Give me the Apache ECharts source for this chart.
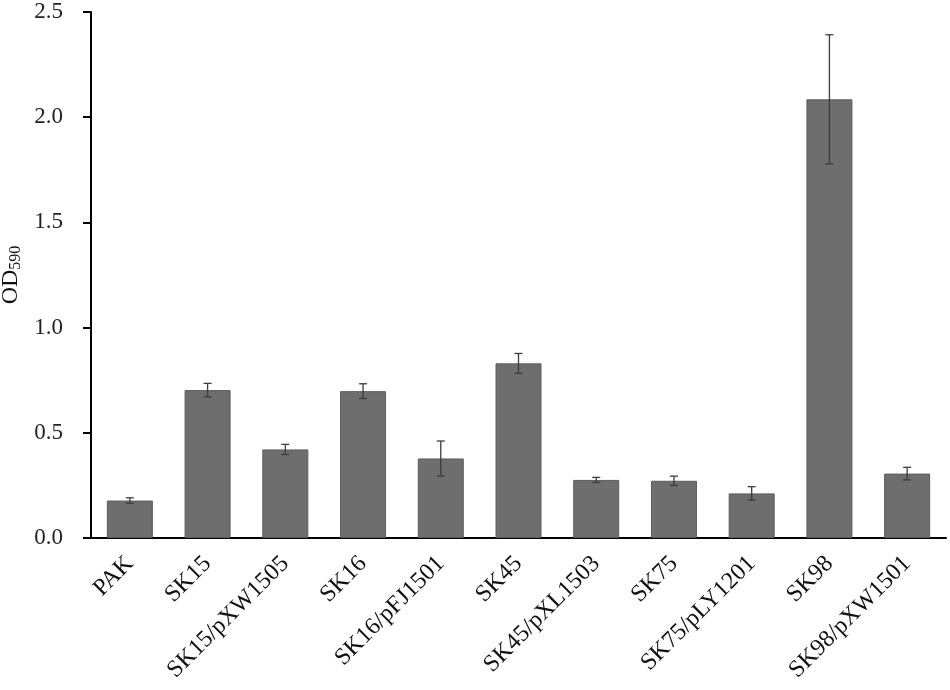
<!DOCTYPE html>
<html>
<head>
<meta charset="utf-8">
<script src="https://cdn.jsdelivr.net/npm/echarts@6/dist/echarts.min.js"></script>
<style>
  html, body { margin: 0; padding: 0; background: #fff; }
  #chart { width: 950px; height: 690px; }
</style>
</head>
<body>
<div id="chart"></div>
<script>
// strains on the x axis
var strains = ['PAK', 'SK15', 'SK15/pXW1505', 'SK16', 'SK16/pFJ1501', 'SK45',
  'SK45/pXL1503', 'SK75', 'SK75/pLY1201', 'SK98', 'SK98/pXW1501'];
// mean OD590 per strain
var odValues = [0.178, 0.703, 0.421, 0.698, 0.378, 0.830, 0.276, 0.272, 0.212, 2.085, 0.306];
// error bar half-length (+/-)
var odErrors = [0.013, 0.032, 0.024, 0.035, 0.083, 0.047, 0.012, 0.022, 0.032, 0.307, 0.030];
// y axis ticks
var yTicks = [0, 0.5, 1.0, 1.5, 2.0, 2.5];

var font = '"Liberation Serif", "Times New Roman", serif';
var myChart = echarts.init(document.getElementById('chart'));

var errData = strains.map(function (s, i) {
  return [i, odValues[i] - odErrors[i], odValues[i] + odErrors[i]];
});

var option = {
  animation: false,
  backgroundColor: '#fff',
  grid: { left: 91, right: 4, top: 12, bottom: 152, outerBoundsMode: 'none', containLabel: false },
  xAxis: {
    type: 'category',
    data: strains,
    axisLine: { lineStyle: { color: '#000', width: 2 } },
    axisTick: { show: false },
    axisLabel: {
      rotate: 45,
      interval: 0,
      margin: 22,
      fontFamily: font,
      fontSize: 24,
      color: '#111'
    }
  },
  yAxis: {
    type: 'value',
    min: yTicks[0],
    max: yTicks[yTicks.length - 1],
    interval: 0.5,
    splitLine: { show: false },
    axisLine: { show: true, lineStyle: { color: '#000', width: 2 } },
    axisTick: { show: true, length: 8, lineStyle: { color: '#000', width: 2 } },
    axisLabel: {
      margin: 28,
      fontFamily: font,
      fontSize: 23,
      color: '#222',
      formatter: function (v) { return v.toFixed(1); }
    },
    name: '{a|OD}{b|590}',
    nameLocation: 'middle',
    nameGap: 66,
    nameTextStyle: {
      rich: {
        a: { fontFamily: font, fontSize: 24, color: '#111' },
        b: { fontFamily: font, fontSize: 16, color: '#111', padding: [10, 0, 0, 0] }
      }
    }
  },
  series: [
    {
      type: 'bar',
      data: odValues,
      barWidth: 46,
      itemStyle: { color: '#6e6e6e', borderColor: '#5c5c5c', borderWidth: 1 }
    },
    {
      type: 'custom',
      data: errData,
      z: 5,
      renderItem: function (params, api) {
        var x = api.value(0);
        var lo = api.coord([x, api.value(1)]);
        var hi = api.coord([x, api.value(2)]);
        var cap = 4;
        var style = { stroke: '#3c3c3c', lineWidth: 1.3 };
        return {
          type: 'group',
          children: [
            { type: 'line', shape: { x1: hi[0], y1: hi[1], x2: lo[0], y2: lo[1] }, style: style },
            { type: 'line', shape: { x1: hi[0] - cap, y1: hi[1], x2: hi[0] + cap, y2: hi[1] }, style: style },
            { type: 'line', shape: { x1: lo[0] - cap, y1: lo[1], x2: lo[0] + cap, y2: lo[1] }, style: style }
          ]
        };
      }
    }
  ]
};
myChart.setOption(option);
</script>
</body>
</html>
